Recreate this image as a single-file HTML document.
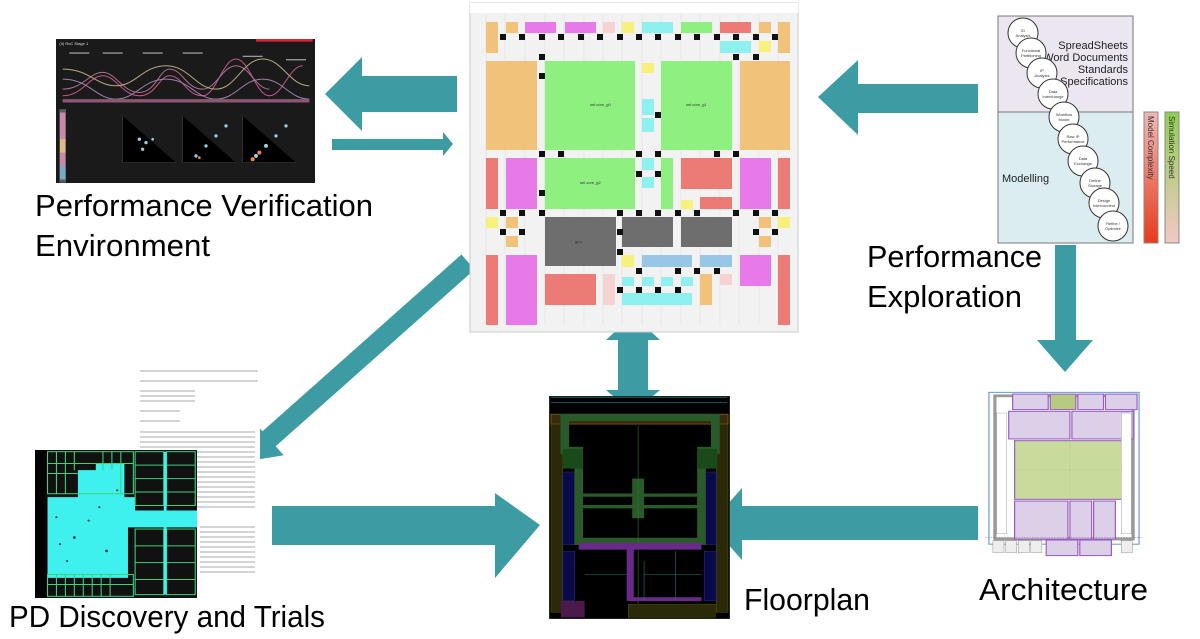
<!DOCTYPE html>
<html><head><meta charset="utf-8"><style>
html,body{margin:0;padding:0;background:#fff;}
svg{display:block}
text{font-family:"Liberation Sans",sans-serif}
.lbl{font-family:"Liberation Sans",sans-serif;font-size:31px;fill:#000}
</style></head><body>
<svg width="1200" height="639" viewBox="0 0 1200 639" xmlns="http://www.w3.org/2000/svg">
<rect width="1200" height="639" fill="#fff"/>

<!-- Performance verification dark screenshot -->
<svg x="56" y="39" width="259" height="144" viewBox="0 0 777 431" preserveAspectRatio="none">
 <rect width="777" height="431" fill="#1a1a1a"/>
 <rect x="600" y="0" width="170" height="8" fill="#d23"/>
 <text x="10" y="18" font-size="12" fill="#ddd">(II) RoC Stage 1</text>
 <g fill="none" stroke-width="3" opacity="0.8">
  <path d="M20 170 C80 170 100 110 140 110 C180 110 200 170 250 170 C300 170 310 110 340 110 C380 110 390 170 440 170 C480 170 500 60 540 60 C580 60 600 170 640 170 C680 170 700 80 740 80" stroke="#e6a"/>
  <path d="M20 150 C80 150 100 100 140 100 C180 100 200 160 250 160 C300 160 310 90 340 90 C380 90 390 150 440 150 C480 150 500 80 540 80 C580 80 600 150 640 150" stroke="#c8a"/>
  <path d="M20 120 C100 120 120 180 180 180 C240 180 260 120 330 120 C400 120 420 180 480 180 C540 180 560 120 620 120 C680 120 700 180 760 180" stroke="#b9c"/>
  <path d="M20 90 C100 90 120 140 180 140 C240 140 260 80 330 80 C400 80 420 150 480 150 C540 150 560 60 620 60 C680 60 700 140 760 140" stroke="#dc9"/>
  <path d="M20 185 L760 185" stroke="#a68" stroke-width="10"/>
 </g>
 <g fill="#999"><rect x="40" y="40" width="60" height="4"/><rect x="140" y="40" width="60" height="4"/><rect x="260" y="40" width="60" height="4"/><rect x="380" y="40" width="60" height="4"/><rect x="560" y="50" width="60" height="4"/><rect x="690" y="60" width="60" height="4"/></g>
 <g>
  <rect x="10" y="210" width="20" height="220" fill="#888" opacity=".6"/>
  <rect x="12" y="220" width="16" height="200" fill="#c8a"/>
  <rect x="12" y="300" width="16" height="40" fill="#db8"/>
  <rect x="12" y="380" width="16" height="40" fill="#7ac"/>
 </g>
 <g stroke="#666" stroke-width="1"><path d="M200 230v140h160M380 230v140h160M560 230v140h160"/></g>
 <g fill="#9cd"><circle cx="250" cy="300" r="5"/><circle cx="270" cy="310" r="5"/><circle cx="290" cy="300" r="4"/><circle cx="260" cy="330" r="5"/><circle cx="420" cy="350" r="5"/><circle cx="450" cy="320" r="5"/><circle cx="480" cy="290" r="5"/><circle cx="510" cy="260" r="5"/><circle cx="600" cy="350" r="6"/><circle cx="630" cy="320" r="6"/><circle cx="660" cy="290" r="5"/><circle cx="690" cy="260" r="5"/></g>
 <g fill="#e84"><circle cx="590" cy="360" r="6"/><circle cx="610" cy="340" r="6"/><circle cx="430" cy="355" r="4"/></g>
</svg>

<!-- arrows teal -->
<g fill="#3d9ca3">
 <polygon points="325,94 362,57 362,76 457,76 457,112 362,112 362,131"/>
 <polygon points="332,139 443,139 443,132 453,144 443,156 443,150 332,150"/>
 <polygon points="818,97 858,60 858,84 978,84 978,113 858,113 858,135"/>
 <polygon points="1055,245 1076,245 1076,340 1093,340 1065,372 1037,340 1055,340"/>
 <polygon points="710,524 742,488 742,506 978,506 978,540 742,540 742,560"/>
 <polygon points="272,506 495,506 495,493 540,525 495,578 495,545 272,545"/>
 <polygon points="633,315 660,340 648,340 648,390 660,390 633,413 606,390 618,390 618,340 606,340"/>
 <polygon points="474.6,269.5 461.4,254.5 262.5,431.3 254.5,422.4 243,462 283.7,455.2 275.7,446.3"/>
</g>

<!-- center floorplan grid -->
<rect x="470" y="3" width="328" height="329" fill="#f2f2f2" stroke="#ccc"/>
<rect x="470" y="3" width="328" height="10" fill="#fff"/>
<g stroke="#ddd" stroke-width="0.5">
 <path d="M486 14V325M505 14V325M525 14V325M545 14V325M564 14V325M584 14V325M603 14V325M622 14V325M642 14V325M661 14V325M681 14V325M700 14V325M720 14V325M739 14V325M759 14V325M778 14V325"/>
</g>
<g>
 <rect x="486" y="22" width="12" height="31" fill="#f1c27a"/>
 <rect x="506" y="22" width="12" height="11" fill="#f1c27a"/>
 <rect x="525" y="22" width="31" height="11" fill="#e879e8"/>
 <rect x="565" y="22" width="31" height="11" fill="#e879e8"/>
 <rect x="603" y="22" width="12" height="11" fill="#f6d3d3"/>
 <rect x="622" y="22" width="12" height="11" fill="#f7f07a"/>
 <rect x="642" y="22" width="31" height="11" fill="#8ff0f0"/>
 <rect x="681" y="22" width="31" height="11" fill="#8ef07e"/>
 <rect x="720" y="22" width="31" height="11" fill="#ec7b75"/>
 <rect x="759" y="22" width="12" height="11" fill="#f1c27a"/>
 <rect x="778" y="22" width="12" height="31" fill="#f1c27a"/>
 <rect x="720" y="41" width="31" height="12" fill="#8ff0f0"/>
 <rect x="759" y="41" width="12" height="11" fill="#f7f07a"/>
 <rect x="486" y="61" width="51" height="89" fill="#f1c27a"/>
 <rect x="545" y="61" width="90" height="89" fill="#8ef07e"/>
 <rect x="661" y="61" width="71" height="89" fill="#8ef07e"/>
 <rect x="740" y="61" width="50" height="89" fill="#f1c27a"/>
 <rect x="642" y="63" width="12" height="10" fill="#f7f07a"/>
 <rect x="642" y="99" width="12" height="16" fill="#8ff0f0"/>
 <rect x="642" y="118" width="12" height="14" fill="#8ff0f0"/>
 <rect x="486" y="158" width="12" height="51" fill="#ec7b75"/>
 <rect x="506" y="158" width="31" height="51" fill="#e879e8"/>
 <rect x="545" y="158" width="90" height="51" fill="#8ef07e"/>
 <rect x="642" y="158" width="12" height="12" fill="#8ff0f0"/>
 <rect x="642" y="177" width="12" height="11" fill="#8ff0f0"/>
 <rect x="661" y="158" width="12" height="51" fill="#8ef07e"/>
 <rect x="681" y="158" width="51" height="31" fill="#ec7b75"/>
 <rect x="700" y="197" width="32" height="12" fill="#ec7b75"/>
 <rect x="681" y="200" width="12" height="9" fill="#f7f07a"/>
 <rect x="740" y="158" width="31" height="51" fill="#e879e8"/>
 <rect x="778" y="158" width="12" height="51" fill="#ec7b75"/>
 <rect x="486" y="217" width="12" height="11" fill="#f7f07a"/>
 <rect x="506" y="217" width="12" height="11" fill="#f1c27a"/>
 <rect x="506" y="236" width="12" height="11" fill="#f1c27a"/>
 <rect x="545" y="217" width="71" height="49" fill="#6e6e6e"/>
 <rect x="622" y="217" width="51" height="30" fill="#6e6e6e"/>
 <rect x="681" y="217" width="51" height="30" fill="#6e6e6e"/>
 <rect x="759" y="217" width="12" height="11" fill="#f1c27a"/>
 <rect x="759" y="236" width="12" height="11" fill="#f1c27a"/>
 <rect x="778" y="217" width="12" height="11" fill="#f7f07a"/>
 <rect x="486" y="255" width="12" height="70" fill="#ec7b75"/>
 <rect x="506" y="255" width="31" height="70" fill="#e879e8"/>
 <rect x="622" y="255" width="12" height="12" fill="#f7f07a"/>
 <rect x="642" y="255" width="50" height="12" fill="#97c6e6"/>
 <rect x="700" y="255" width="32" height="12" fill="#97c6e6"/>
 <rect x="740" y="255" width="31" height="31" fill="#e879e8"/>
 <rect x="778" y="255" width="12" height="70" fill="#ec7b75"/>
 <rect x="545" y="274" width="51" height="31" fill="#ec7b75"/>
 <rect x="603" y="274" width="12" height="31" fill="#f6d3d3"/>
 <rect x="622" y="277" width="12" height="9" fill="#8ff0f0"/>
 <rect x="642" y="277" width="12" height="9" fill="#8ff0f0"/>
 <rect x="661" y="277" width="12" height="9" fill="#8ff0f0"/>
 <rect x="681" y="277" width="12" height="9" fill="#8ff0f0"/>
 <rect x="622" y="293" width="70" height="12" fill="#8ff0f0"/>
 <rect x="700" y="274" width="12" height="31" fill="#f1c27a"/>
 <rect x="720" y="274" width="12" height="11" fill="#f6d3d3"/>
</g>
<g fill="#111">
 <rect x="500" y="34" width="6" height="6"/><rect x="519" y="34" width="6" height="6"/><rect x="539" y="34" width="6" height="6"/><rect x="558" y="34" width="6" height="6"/><rect x="578" y="34" width="6" height="6"/><rect x="597" y="34" width="6" height="6"/><rect x="617" y="34" width="6" height="6"/><rect x="636" y="34" width="6" height="6"/><rect x="655" y="34" width="6" height="6"/><rect x="675" y="34" width="6" height="6"/><rect x="694" y="34" width="6" height="6"/><rect x="714" y="34" width="6" height="6"/><rect x="733" y="34" width="6" height="6"/><rect x="753" y="34" width="6" height="6"/><rect x="772" y="34" width="6" height="6"/>
 <rect x="539" y="54" width="6" height="6"/><rect x="539" y="73" width="6" height="6"/><rect x="655" y="112" width="6" height="6"/><rect x="733" y="54" width="6" height="6"/><rect x="753" y="54" width="6" height="6"/>
 <rect x="539" y="151" width="6" height="6"/><rect x="558" y="151" width="6" height="6"/><rect x="636" y="151" width="6" height="6"/><rect x="655" y="151" width="6" height="6"/><rect x="714" y="151" width="6" height="6"/><rect x="733" y="151" width="6" height="6"/>
 <rect x="636" y="171" width="6" height="6"/><rect x="655" y="171" width="6" height="6"/><rect x="539" y="190" width="6" height="6"/>
 <rect x="500" y="210" width="6" height="6"/><rect x="519" y="210" width="6" height="6"/><rect x="539" y="210" width="6" height="6"/><rect x="617" y="210" width="6" height="6"/><rect x="636" y="210" width="6" height="6"/><rect x="655" y="210" width="6" height="6"/><rect x="675" y="210" width="6" height="6"/><rect x="694" y="210" width="6" height="6"/><rect x="733" y="210" width="6" height="6"/><rect x="753" y="210" width="6" height="6"/><rect x="772" y="210" width="6" height="6"/>
 <rect x="500" y="229" width="6" height="6"/><rect x="519" y="229" width="6" height="6"/><rect x="617" y="229" width="6" height="6"/><rect x="617" y="249" width="6" height="6"/><rect x="772" y="229" width="6" height="6"/><rect x="753" y="229" width="6" height="6"/>
 <rect x="636" y="268" width="6" height="6"/><rect x="675" y="268" width="6" height="6"/><rect x="694" y="268" width="6" height="6"/><rect x="714" y="268" width="6" height="6"/><rect x="617" y="287" width="6" height="6"/><rect x="636" y="287" width="6" height="6"/><rect x="655" y="287" width="6" height="6"/><rect x="675" y="287" width="6" height="6"/>
</g>
<g font-size="4" fill="#333"><text x="590" y="106">sel.core_g0</text><text x="686" y="106">sel.core_g1</text><text x="580" y="184">sel.core_g2</text><text x="575" y="243">gpu</text></g>

<!-- Right modelling diagram -->
<rect x="998" y="16" width="135" height="96" fill="#ece6f0" stroke="#777"/>
<rect x="998" y="112" width="135" height="131" fill="#dcedf2" stroke="#777"/>
<g font-size="11" fill="#222" text-anchor="end">
 <text x="1128" y="49">SpreadSheets</text><text x="1128" y="61">Word Documents</text><text x="1128" y="73">Standards</text><text x="1128" y="85">Specifications</text>
</g>
<text x="1002" y="182" font-size="11" fill="#222">Modelling</text>
<g fill="#fff" stroke="#333" stroke-width="1">
 <circle cx="1023" cy="33" r="15"/><circle cx="1031" cy="53" r="15"/><circle cx="1042" cy="73" r="15"/><circle cx="1053" cy="94" r="15"/><circle cx="1064" cy="117" r="15"/><circle cx="1073" cy="139" r="15"/><circle cx="1083" cy="161" r="15"/><circle cx="1095" cy="183" r="15"/><circle cx="1104" cy="203" r="15"/><circle cx="1113" cy="226" r="15"/>
</g>
<g font-size="4" fill="#333" text-anchor="middle">
 <text x="1023" y="32">ID</text><text x="1023" y="37">Analysis</text>
 <text x="1031" y="52">Functional</text><text x="1031" y="57">Partitioning</text>
 <text x="1042" y="72">IP</text><text x="1042" y="77">Analysis</text>
 <text x="1053" y="93">Data</text><text x="1053" y="98">Interchange</text>
 <text x="1064" y="116">Workflow</text><text x="1064" y="121">Model</text>
 <text x="1073" y="138">Raw IP</text><text x="1073" y="143">Performance</text>
 <text x="1083" y="160">Data</text><text x="1083" y="165">Exchange</text>
 <text x="1095" y="182">Define</text><text x="1095" y="187">Storage</text>
 <text x="1104" y="202">Design</text><text x="1104" y="207">Interconnect</text>
 <text x="1113" y="225">Refine /</text><text x="1113" y="230">Optimize</text>
</g>
<defs>
 <linearGradient id="g1" x1="0" y1="0" x2="0" y2="1"><stop offset="0" stop-color="#f0b8b8"/><stop offset="1" stop-color="#e83a1a"/></linearGradient>
 <linearGradient id="g2" x1="0" y1="0" x2="0" y2="1"><stop offset="0" stop-color="#8fd050"/><stop offset="1" stop-color="#f2c8c8"/></linearGradient>
</defs>
<rect x="1144" y="112" width="14" height="131" fill="url(#g1)" stroke="#888"/>
<rect x="1165" y="112" width="14" height="131" fill="url(#g2)" stroke="#888"/>
<text transform="translate(1148,116) rotate(90)" font-size="8" fill="#333">Model Complexity</text>
<text transform="translate(1169,116) rotate(90)" font-size="8" fill="#333">Simulation Speed</text>

<!-- Architecture -->
<svg x="985" y="382" width="158" height="176" viewBox="0 0 400 510" preserveAspectRatio="none">
 <rect width="400" height="510" fill="#fff"/>
 <rect x="10" y="30" width="380" height="440" fill="none" stroke="#6a9ad6" stroke-width="3"/>
 <rect x="25" y="40" width="350" height="415" fill="none" stroke="#999" stroke-width="8"/>
 <rect x="70" y="35" width="90" height="45" fill="#dcd0e8" stroke="#9a5cc0" stroke-width="3"/>
 <rect x="165" y="35" width="65" height="45" fill="#b5cc80" stroke="#9a5cc0" stroke-width="3"/>
 <rect x="235" y="35" width="65" height="45" fill="#dcd0e8" stroke="#9a5cc0" stroke-width="3"/>
 <rect x="305" y="35" width="80" height="45" fill="#dcd0e8" stroke="#9a5cc0" stroke-width="3"/>
 <rect x="60" y="85" width="155" height="80" fill="#dcd0e8" stroke="#9a5cc0" stroke-width="3"/>
 <rect x="220" y="85" width="155" height="80" fill="#dcd0e8" stroke="#9a5cc0" stroke-width="3"/>
 <rect x="75" y="170" width="280" height="170" fill="#c9da9d" stroke="#9a5cc0" stroke-width="3"/>
 <path d="M75 255H355M215 170V340" stroke="#9bb070" stroke-dasharray="3 3"/>
 <rect x="75" y="345" width="135" height="110" fill="#dcd0e8" stroke="#9a5cc0" stroke-width="3"/>
 <rect x="215" y="345" width="55" height="110" fill="#dcd0e8" stroke="#9a5cc0" stroke-width="3"/>
 <rect x="275" y="345" width="55" height="110" fill="#dcd0e8" stroke="#9a5cc0" stroke-width="3"/>
 <rect x="155" y="458" width="80" height="45" fill="#dcd0e8" stroke="#9a5cc0" stroke-width="3"/>
 <rect x="240" y="458" width="80" height="45" fill="#dcd0e8" stroke="#9a5cc0" stroke-width="3"/>
 <g fill="#eee" stroke="#777"><rect x="20" y="460" width="28" height="35"/><rect x="52" y="460" width="28" height="35"/><rect x="84" y="460" width="28" height="35"/><rect x="116" y="460" width="28" height="35"/><rect x="345" y="460" width="28" height="35"/></g>
 <path d="M0 450H400" stroke="#555" stroke-dasharray="4 3"/>
 <g fill="#fff" stroke="#888"><rect x="30" y="90" width="25" height="350"/><rect x="345" y="90" width="25" height="350"/></g>
</svg>

<!-- Floorplan dark -->
<svg x="549" y="396" width="181" height="223" viewBox="0 0 457 675" preserveAspectRatio="none">
 <rect width="457" height="675" fill="#000" stroke="#444" stroke-width="3"/>
 <rect x="5" y="55" width="447" height="30" fill="#3a2a0a" stroke="#8a6a10" stroke-width="2"/>
 <rect x="5" y="85" width="30" height="570" fill="#2a2a08" stroke="#6a6a10"/>
 <rect x="422" y="85" width="30" height="570" fill="#2a2a08" stroke="#6a6a10"/>
 <rect x="35" y="230" width="30" height="220" fill="#0a0a4a" stroke="#3a3a9a"/>
 <rect x="392" y="230" width="30" height="220" fill="#0a0a4a" stroke="#3a3a9a"/>
 <rect x="35" y="470" width="30" height="150" fill="#0a0a4a" stroke="#3a3a9a"/>
 <rect x="392" y="470" width="30" height="150" fill="#0a0a4a" stroke="#3a3a9a"/>
 <path d="M40 65H420V165H385V440H75V165H40Z" fill="none" stroke="#2a5a2a" stroke-width="22"/>
 <rect x="35" y="160" width="50" height="60" fill="#1a4a1a"/>
 <rect x="375" y="160" width="50" height="60" fill="#1a4a1a"/>
 <path d="M85 300H375M85 335H375" stroke="#2a5a2a" stroke-width="10"/>
 <rect x="210" y="250" width="30" height="120" fill="#2a5a2a"/>
 <path d="M225 90V640" stroke="#2a7a2a" stroke-width="1.5"/>
 <path d="M75 455H385" stroke="#6a2a8a" stroke-width="20"/>
 <path d="M205 455V620" stroke="#6a2a8a" stroke-width="18"/>
 <path d="M205 615H385" stroke="#6a2a8a" stroke-width="12"/>
 <rect x="30" y="620" width="60" height="50" fill="#4a1a4a"/>
 <rect x="200" y="630" width="220" height="40" fill="#2a2a08" stroke="#6a6a10"/>
 <path d="M5 5H450M5 20H450" stroke="#1aa0a0" stroke-width="1.5"/>
 <path d="M90 540H200M240 540H385M240 500V620M320 470V620" stroke="#1a7a7a" stroke-width="1.5"/>
</svg>

<!-- PD doc -->
<rect x="138" y="368" width="122" height="210" fill="#fff"/>
<g stroke="#bbb" stroke-width="1.2">
 <path d="M140 371H258M140 381H258M140 391H195M140 396H195M140 401H195M140 411H180M140 421H180M140 432H255"/>
 <path d="M140 437H255M140 442H255M140 447H255M140 452H255M140 457H255M140 462H255M140 467H255M140 472H255M140 477H255M140 482H255M140 487H255M140 492H255M140 497H255M140 502H255M140 507H255"/>
 <path d="M200 527H255M200 532H255M200 537H255M200 542H255M200 547H255M200 552H255M200 557H255M200 562H255M200 567H255M200 572H255"/>
</g>
<!-- PD cyan image -->
<svg x="35" y="450" width="162" height="148" viewBox="0 0 453 440" preserveAspectRatio="none">
 <rect width="453" height="440" fill="#111"/>
 <rect x="0" y="0" width="35" height="440" fill="#000"/>
 <path d="M35 140 L120 140 L120 60 L170 60 L170 40 L250 40 L250 140 L280 140 L280 180 L453 180 L453 230 L260 230 L260 380 L35 380Z" fill="#3ef0ee"/>
 <g fill="none" stroke="#3ed07a" stroke-width="3">
  <rect x="35" y="5" width="240" height="125"/>
  <path d="M60 5V130M85 5V130M110 5V60M190 5V60M215 5V60M240 5V130M35 40H275M35 70H120"/>
  <rect x="280" y="5" width="80" height="160"/><rect x="368" y="5" width="80" height="160"/>
  <path d="M280 45H448M280 85H448M280 125H448"/>
  <rect x="280" y="235" width="80" height="195"/><rect x="368" y="235" width="80" height="195"/>
  <path d="M280 285H448M280 335H448M280 385H448"/>
  <rect x="35" y="370" width="240" height="65"/>
  <path d="M60 370V435M85 370V435M110 370V435M135 370V435M160 370V435M185 370V435M210 370V435M35 400H275"/>
 </g>
 <rect x="360" y="5" width="8" height="425" fill="#3ef0ee"/>
 <g fill="#134"><circle cx="60" cy="200" r="3"/><circle cx="110" cy="260" r="4"/><circle cx="150" cy="210" r="3"/><circle cx="200" cy="300" r="4"/><circle cx="90" cy="330" r="3"/><circle cx="230" cy="120" r="3"/><circle cx="180" cy="170" r="3"/><circle cx="70" cy="280" r="3"/></g>
</svg>

<!-- labels -->
<text class="lbl" x="35" y="216" textLength="338" lengthAdjust="spacingAndGlyphs">Performance Verification</text>
<text class="lbl" x="35" y="256" textLength="175" lengthAdjust="spacingAndGlyphs">Environment</text>
<text class="lbl" x="867" y="267" textLength="175" lengthAdjust="spacingAndGlyphs">Performance</text>
<text class="lbl" x="867" y="307" textLength="155" lengthAdjust="spacingAndGlyphs">Exploration</text>
<text class="lbl" x="979" y="600" textLength="169" lengthAdjust="spacingAndGlyphs">Architecture</text>
<text class="lbl" x="744" y="610" textLength="126" lengthAdjust="spacingAndGlyphs">Floorplan</text>
<text class="lbl" x="9" y="627" textLength="316" lengthAdjust="spacingAndGlyphs">PD Discovery and Trials</text>
</svg>
</body></html>
